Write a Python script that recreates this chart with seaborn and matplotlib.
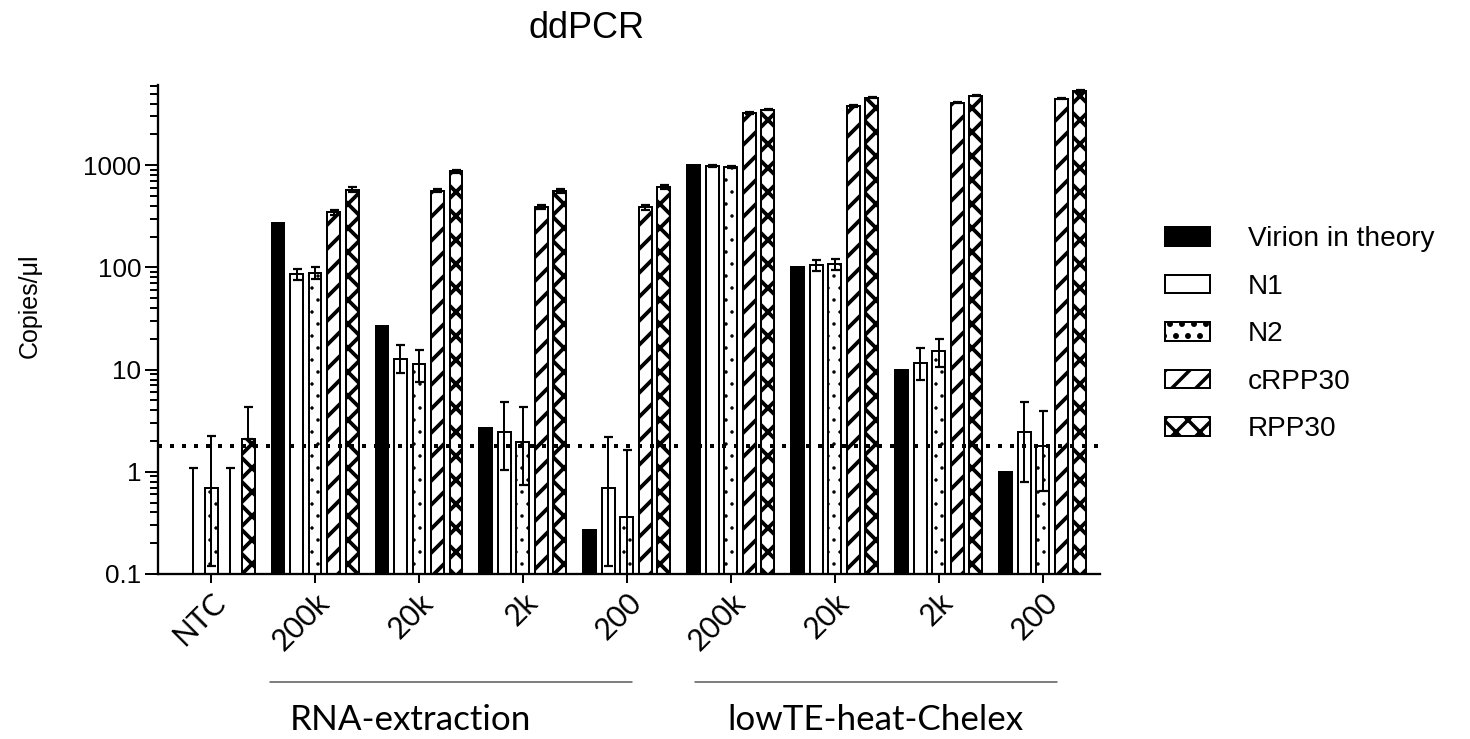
import numpy as np
import pandas as pd
import matplotlib
matplotlib.use("Agg")
import matplotlib.pyplot as plt
import matplotlib.ticker as mticker
from matplotlib.transforms import blended_transform_factory
import seaborn as sns

# ---- data ----
samples = ["NTC", "RNA 200k", "RNA 20k", "RNA 2k", "RNA 200",
           "TE 200k", "TE 20k", "TE 2k", "TE 200"]
tick_labels = ["NTC", "200k", "20k", "2k", "200", "200k", "20k", "2k", "200"]
series = ["Virion in theory", "N1", "N2", "cRPP30", "RPP30"]

virion = [0, 270, 27, 2.7, 0.27, 1000, 100, 10, 1]

n1 = [0, 86, 12.8, 2.46, 0.69, 984, 105, 11.7, 2.43]
n1_lo = [0, 76, 9.2, 1.04, 0.12, 965, 92.5, 7.9, 0.80]
n1_hi = [1.08, 96, 17.6, 4.84, 2.17, 1003, 118, 16.1, 4.84]

n2 = [0.69, 88.5, 11.3, 1.97, 0.364, 962, 107, 15.3, 1.80]
n2_lo = [0.12, 77.6, 7.6, 0.75, 0.05, 943, 94, 10.6, 0.65]
n2_hi = [2.24, 100, 15.5, 4.33, 1.63, 981, 120, 20, 3.93]

crpp30 = [0, 345, 561, 391, 386, 3250, 3800, 4100, 4490]
crpp30_lo = [0, 327, 541, 373, 366, 3180, 3730, 4020, 4400]
crpp30_hi = [1.08, 363, 581, 409, 406, 3320, 3870, 4180, 4580]

rpp30 = [2.10, 578, 873, 561, 613, 3510, 4590, 4800, 5330]
rpp30_lo = [2.10, 548, 848, 536, 590, 3440, 4500, 4710, 5230]
rpp30_hi = [4.27, 608, 898, 586, 636, 3580, 4680, 4890, 5430]

detection_limit = 1.8

groups = ["RNA-extraction", "lowTE-heat-Chelex"]

# ---- long table for seaborn ----
values = [virion, n1, n2, crpp30, rpp30]
df = pd.DataFrame({
    "sample": np.tile(samples, len(series)),
    "series": np.repeat(series, len(samples)),
    "copies": np.concatenate(values),
})

sns.set_style("ticks")
plt.rcParams["font.family"] = ["Liberation Sans", "DejaVu Sans"]
plt.rcParams["hatch.linewidth"] = 3.5
plt.rcParams["hatch.color"] = "black"
for k in ["text.color", "axes.labelcolor", "xtick.color", "ytick.color", "axes.edgecolor"]:
    plt.rcParams[k] = "black"

fig, ax = plt.subplots(figsize=(1470 / 72, 739 / 72), dpi=72)
fig.subplots_adjust(left=0.1075, right=0.7483, bottom=0.2233, top=0.885)

colors = ["black", "white", "white", "white", "white"]
sns.barplot(
    data=df, x="sample", y="copies", hue="series",
    order=samples, hue_order=series, palette=colors, saturation=1,
    edgecolor="black", linewidth=2, width=0.89, gap=0.3,
    errorbar=None, legend=False, ax=ax,
)
bar_sets = list(ax.containers[:len(series)])

# hatches
hatches = [None, None, ".", "/", "x"]
hatch_lw = [3.5, 3.5, 1.0, 3.8, 3.8]
for cont, h, hl in zip(bar_sets, hatches, hatch_lw):
    for bar in cont:
        if h:
            bar.set_hatch(h)
        if hasattr(bar, "set_hatch_linewidth"):
            bar.set_hatch_linewidth(hl)

ax.set_yscale("log")
ax.set_ylim(0.1, 6100)
ax.set_xlim(-0.51, 8.55)

# error bars (mean with lower/upper ends)
err = [(n1, n1_lo, n1_hi), (n2, n2_lo, n2_hi),
       (crpp30, crpp30_lo, crpp30_hi), (rpp30, rpp30_lo, rpp30_hi)]
for cont, (m, lo, hi) in zip(bar_sets[1:], err):
    xs = [b.get_x() + b.get_width() / 2 for b in cont]
    m = np.array(m, float)
    yerr = [m - np.array(lo, float), np.array(hi, float) - m]
    ax.errorbar(xs, m, yerr=yerr, fmt="none", ecolor="black",
                elinewidth=2, capsize=4.5, capthick=2.2, zorder=4)

# detection limit
ax.axhline(detection_limit, color="black", lw=4, ls=(0, (1, 2)), zorder=5)

# axes styling
sns.despine(ax=ax)
for s in ["left", "bottom"]:
    ax.spines[s].set_linewidth(2.3)
ax.yaxis.set_major_locator(mticker.LogLocator(base=10))
ax.yaxis.set_minor_locator(mticker.LogLocator(base=10, subs=np.arange(2, 10)))
ax.yaxis.set_major_formatter(mticker.FuncFormatter(lambda v, p: f"{v:g}"))
ax.yaxis.set_minor_formatter(mticker.NullFormatter())
ax.tick_params(axis="y", which="major", length=13, width=2, labelsize=26, pad=4)
ax.tick_params(axis="y", which="minor", length=8, width=2)
ax.tick_params(axis="x", which="major", length=9, width=2, pad=5)
ax.set_xlabel("")
ax.set_ylabel("")
ax.set_xticks(range(len(samples)))
ax.set_xticklabels(tick_labels, rotation=45, ha="right", va="top",
                   rotation_mode="anchor", fontsize=30, family=["Lato", "DejaVu Sans"])

# group brackets under the axis
trans = blended_transform_factory(ax.transData, ax.transAxes)
for (x0, x1), xc, name in zip([(0.567, 4.048), (4.654, 8.135)], [1.92, 6.39], groups):
    ax.plot([x0, x1], [-0.221, -0.221], transform=trans, clip_on=False,
            color="#555555", lw=1.5)
    ax.text(xc, -0.319, name, transform=trans, ha="center", va="baseline",
            fontsize=35, family=["Lato", "DejaVu Sans"])

# legend
ax.legend(handles=bar_sets, labels=series, loc="upper left",
          bbox_to_anchor=(0.7925, 0.694), bbox_transform=fig.transFigure,
          frameon=False, fontsize=28, handlelength=1.6, handleheight=0.65,
          handletextpad=1.35, labelspacing=0.77, borderpad=0, borderaxespad=0)

fig.text(0.399, 0.9486, "ddPCR", ha="center", va="baseline", fontsize=36)
fig.text(30 / 1470, 1 - 306 / 739, "Copies/μl", rotation=90,
         ha="center", va="center", fontsize=25)

fig.savefig("out.png", dpi=72)
